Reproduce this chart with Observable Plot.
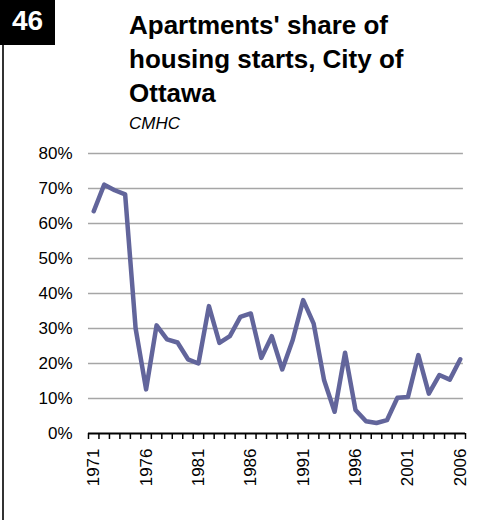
<!DOCTYPE html>
<html>
<head>
<meta charset="utf-8">
<script src="https://cdn.jsdelivr.net/npm/d3@7"></script>
<script src="https://cdn.jsdelivr.net/npm/@observablehq/plot@0.6"></script>
<style>
  html, body { margin: 0; padding: 0; background: #fff; }
  #wrap { position: relative; width: 490px; height: 520px; overflow: hidden; font-family: "Liberation Sans", Arial, sans-serif; }
  #badge { position: absolute; left: 0; top: 0; width: 55px; height: 45px; background: #000; color: #fff; font-weight: bold; font-size: 28px; line-height: 42px; text-align: center; box-sizing: border-box; }
  #border { position: absolute; left: 2px; top: 45px; width: 2px; height: 475px; background: #333; }
  #title { position: absolute; left: 129px; top: 8px; font-weight: bold; font-size: 26px; line-height: 34px; color: #000; }
  #sub { position: absolute; left: 129px; top: 114px; font-style: italic; font-size: 17px; color: #000; }
  #chart { position: absolute; left: 0; top: 140px; }
</style>
</head>
<body>
<div id="wrap">
  <div id="badge">46</div>
  <div id="border"></div>
  <div id="title">Apartments' share of<br>housing starts, City of<br>Ottawa</div>
  <div id="sub">CMHC</div>
  <div id="chart"></div>
</div>
<script>
const years = d3.range(1971, 2007);
const shares = [
  0.635, 0.711, 0.695, 0.683, 0.300, 0.126, 0.309, 0.269, 0.260, 0.212,
  0.200, 0.364, 0.259, 0.278, 0.333, 0.343, 0.216, 0.278, 0.183, 0.267,
  0.381, 0.314, 0.152, 0.062, 0.231, 0.067, 0.035, 0.030, 0.038, 0.102,
  0.104, 0.224, 0.114, 0.167, 0.154, 0.212
];
const yTicks = [0, 0.1, 0.2, 0.3, 0.4, 0.5, 0.6, 0.7, 0.8];
const xLabels = [1971, 1976, 1981, 1986, 1991, 1996, 2001, 2006];

const data = years.map((y, i) => ({year: y, share: shares[i]}));
const boundaries = d3.range(years[0] - 0.5, years[years.length - 1] + 1, 1);

const chart = Plot.plot({
  width: 490,
  height: 380,
  marginTop: 13,
  marginBottom: 87,
  marginLeft: 88,
  marginRight: 25,
  style: {fontFamily: "'Liberation Sans', Arial, sans-serif", fontSize: "17px", color: "#000", background: "transparent"},
  x: {type: "linear", domain: [years[0] - 0.5, years[years.length - 1] + 0.5]},
  y: {domain: [0, 0.8]},
  marks: [
    Plot.ruleY(yTicks.filter(d => d > 0), {stroke: "#a6a6a6", strokeWidth: 1.5, x1: years[0] - 0.5, x2: years[years.length - 1] + 0.3}),
    Plot.axisY({ticks: yTicks, tickFormat: d3.format(".0%"), tickSize: 0, tickPadding: 16, label: null, fontSize: 17}),
    Plot.axisX({ticks: boundaries, tickFormat: () => "", tickSize: 6, strokeWidth: 1.5, stroke: "#000", label: null}),
    Plot.axisX({ticks: xLabels, tickFormat: d => String(d), tickSize: 0, tickPadding: 15, tickRotate: -90, label: null, fontSize: 17}),
    Plot.ruleY([0], {stroke: "#000", strokeWidth: 2}),
    Plot.line(data, {x: "year", y: "share", stroke: "#62659b", strokeWidth: 4.5, strokeLinejoin: "round", strokeLinecap: "round"})
  ]
});
document.getElementById("chart").appendChild(chart);
</script>
</body>
</html>
